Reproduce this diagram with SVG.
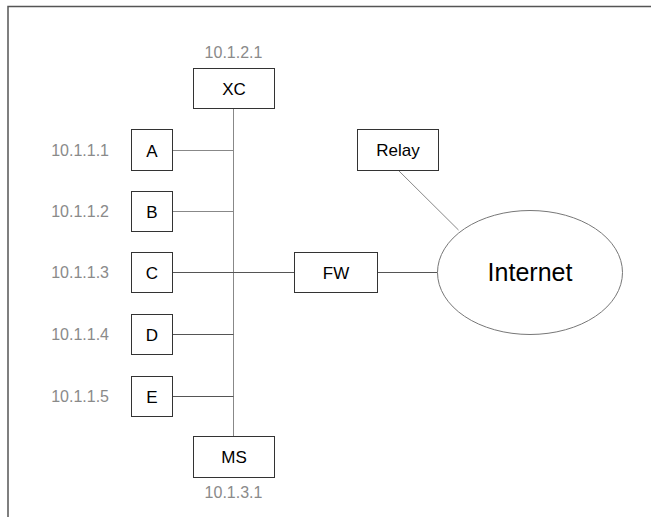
<svg xmlns="http://www.w3.org/2000/svg" width="651" height="517" viewBox="0 0 651 517">
<style>
.box{fill:#fff;stroke:#333;stroke-width:1}
.t{font-family:"Liberation Sans",Arial,sans-serif;font-size:17px;fill:#000;text-anchor:middle}
.ip{font-family:"Liberation Sans",Arial,sans-serif;font-size:16px;fill:#8a8a8a}
.ln{stroke:#555;stroke-width:1;fill:none}
.lg{stroke:#888;stroke-width:1;fill:none}
</style>
<rect width="651" height="517" fill="#fff"/>
<path d="M8 517 V6.5 H651" fill="none" stroke="#555" stroke-width="1.5"/>
<g id="connectors">
<line class="lg" x1="233.5" y1="108" x2="233.5" y2="436"/>
<line class="lg" x1="172" y1="150.5" x2="233.5" y2="150.5"/>
<line class="lg" x1="172" y1="211.5" x2="233.5" y2="211.5"/>
<line class="ln" x1="172" y1="272.5" x2="294" y2="272.5"/>
<line class="ln" x1="172" y1="334.5" x2="233.5" y2="334.5"/>
<line class="ln" x1="172" y1="396.5" x2="233.5" y2="396.5"/>
<line class="ln" x1="377" y1="272.5" x2="437.5" y2="272.5"/>
<line class="lg" x1="398" y1="170" x2="458.5" y2="230"/>
</g>
<g id="XC"><rect class="box" x="193.5" y="68.5" width="81" height="40"/><text class="t" x="234" y="94.5">XC</text><text class="ip" x="233.5" y="58" text-anchor="middle">10.1.2.1</text></g>
<g id="A"><rect class="box" x="131.5" y="129.5" width="41" height="41"/><text class="t" x="152" y="156.5">A</text><text class="ip" x="109" y="156" text-anchor="end">10.1.1.1</text></g>
<g id="B"><rect class="box" x="131.5" y="191.5" width="41" height="40"/><text class="t" x="152" y="217.5">B</text><text class="ip" x="109" y="217" text-anchor="end">10.1.1.2</text></g>
<g id="C"><rect class="box" x="131.5" y="252.5" width="41" height="40"/><text class="t" x="152" y="278.5">C</text><text class="ip" x="109" y="278" text-anchor="end">10.1.1.3</text></g>
<g id="D"><rect class="box" x="131.5" y="314.5" width="41" height="40"/><text class="t" x="152" y="340.5">D</text><text class="ip" x="109" y="340" text-anchor="end">10.1.1.4</text></g>
<g id="E"><rect class="box" x="131.5" y="376.5" width="41" height="40"/><text class="t" x="152" y="402.5">E</text><text class="ip" x="109" y="402" text-anchor="end">10.1.1.5</text></g>
<g id="MS"><rect class="box" x="193.5" y="436.5" width="81" height="41"/><text class="t" x="234" y="463">MS</text><text class="ip" x="233.5" y="498" text-anchor="middle">10.1.3.1</text></g>
<g id="Relay"><rect class="box" x="357.5" y="129.5" width="81" height="41"/><text class="t" x="398" y="156">Relay</text></g>
<g id="FW"><rect class="box" x="294.5" y="252.5" width="83" height="40"/><text class="t" x="336" y="278.5">FW</text></g>
<g id="Internet"><ellipse cx="530" cy="272.5" rx="92.5" ry="62" fill="#fff" stroke="#777" stroke-width="1"/><text class="t" x="530" y="281" style="font-size:25px">Internet</text></g>
</svg>
